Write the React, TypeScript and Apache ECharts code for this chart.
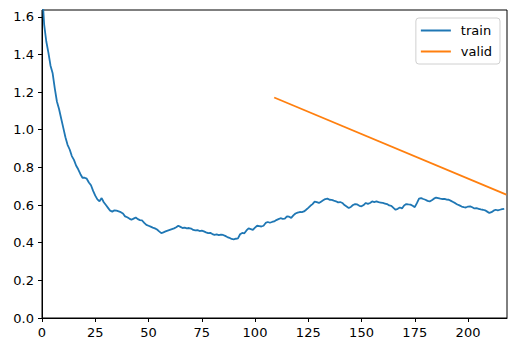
import React, { useEffect, useRef } from "react";
import * as echarts from "echarts";

const trainLoss: number[] = [
  1.75, 1.56, 1.47, 1.41, 1.34, 1.3, 1.22, 1.15, 1.11, 1.06,
  1.01, 0.96, 0.92, 0.895, 0.86, 0.84, 0.81, 0.79, 0.765, 0.745,
  0.745, 0.74, 0.72, 0.705, 0.675, 0.65, 0.63, 0.62, 0.637, 0.615,
  0.6, 0.585, 0.57, 0.565, 0.572, 0.57, 0.566, 0.562, 0.555, 0.54,
  0.535, 0.528, 0.522, 0.528, 0.534, 0.525, 0.52, 0.518, 0.505, 0.495,
  0.49, 0.485, 0.48, 0.476, 0.47, 0.46, 0.451, 0.455, 0.46, 0.464,
  0.468, 0.472, 0.476, 0.482, 0.49, 0.484, 0.478, 0.48, 0.476, 0.478,
  0.475, 0.468, 0.465, 0.467, 0.462, 0.464, 0.46, 0.455, 0.451, 0.452,
  0.446, 0.442, 0.444, 0.44, 0.443, 0.441, 0.436, 0.43, 0.426, 0.42,
  0.418, 0.421, 0.423, 0.445, 0.452, 0.45, 0.465, 0.476, 0.472, 0.468,
  0.48, 0.49, 0.488, 0.486, 0.49, 0.505, 0.51, 0.506, 0.51, 0.513,
  0.52, 0.525, 0.53, 0.527, 0.528, 0.54, 0.538, 0.532, 0.545, 0.555,
  0.56, 0.563, 0.562, 0.566, 0.575, 0.585, 0.596, 0.605, 0.618, 0.615,
  0.611, 0.618, 0.625, 0.632, 0.634, 0.628, 0.627, 0.623, 0.62, 0.614,
  0.616, 0.611, 0.6, 0.592, 0.584, 0.59, 0.6, 0.605, 0.603, 0.596,
  0.593, 0.6, 0.611, 0.606, 0.611, 0.619, 0.616, 0.619, 0.615, 0.613,
  0.611, 0.608, 0.605, 0.598, 0.596, 0.585, 0.575, 0.58, 0.587, 0.582,
  0.598, 0.605, 0.603, 0.602, 0.596, 0.589, 0.61, 0.634, 0.637, 0.632,
  0.628, 0.622, 0.619, 0.626, 0.634, 0.64, 0.637, 0.634, 0.632, 0.633,
  0.629, 0.628, 0.622, 0.616, 0.61, 0.603, 0.598, 0.592, 0.589, 0.587,
  0.592, 0.593, 0.588, 0.582, 0.583, 0.58, 0.577, 0.575, 0.572, 0.565,
  0.558, 0.562, 0.57, 0.575, 0.572, 0.575, 0.578, 0.58,
];

const validSteps: number[] = [109, 218];
const validLoss: number[] = [1.171, 0.655];

const xTicks: number[] = [0, 25, 50, 75, 100, 125, 150, 175, 200];
const yTicks: number[] = [0, 0.2, 0.4, 0.6, 0.8, 1.0, 1.2, 1.4, 1.6];

const FONT = "DejaVu Sans";
const FS = 13;

export default function App() {
  const ref = useRef<HTMLDivElement>(null);

  useEffect(() => {
    if (!ref.current) return;
    const chart = echarts.init(ref.current, undefined, { renderer: "svg" });
    const trainData = trainLoss.map((v, i) => [i, v]);
    const validData = validSteps.map((s, i) => [s, validLoss[i]]);

    chart.setOption({
      animation: false,
      backgroundColor: "#ffffff",
      grid: {
        left: 42,
        right: 9,
        top: 10,
        bottom: 34,
        show: true,
        borderColor: "#000000",
        borderWidth: 1,
        backgroundColor: "transparent",
      },
      legend: {
        right: 16,
        top: 18,
        orient: "vertical",
        padding: [5, 8, 5, 5],
        itemGap: 6,
        itemWidth: 30,
        itemHeight: 2,
        icon: "rect",
        borderColor: "#d0d0d0",
        borderWidth: 1,
        borderRadius: 3,
        backgroundColor: "rgba(255,255,255,0.8)",
        textStyle: {
          fontFamily: FONT,
          fontSize: FS,
          color: "#000000",
          lineHeight: 15,
          padding: [0, 0, 0, 5],
        },
        data: ["train", "valid"],
      },
      xAxis: {
        type: "value",
        min: 0,
        max: 218.3,
        splitLine: { show: false },
        axisLine: { show: true, onZero: false, lineStyle: { color: "#000", width: 1 } },
        axisTick: {
          show: true,
          inside: false,
          length: 4,
          customValues: xTicks,
          lineStyle: { color: "#000" },
        },
        axisLabel: {
          customValues: xTicks,
          fontFamily: FONT,
          fontSize: FS,
          color: "#000",
          margin: 8,
          formatter: (v: number) => String(v),
        },
      },
      yAxis: {
        type: "value",
        min: 0,
        max: 1.636,
        splitLine: { show: false },
        axisLine: { show: true, onZero: false, lineStyle: { color: "#000", width: 1 } },
        axisTick: {
          show: true,
          inside: false,
          length: 4,
          customValues: yTicks,
          lineStyle: { color: "#000" },
        },
        axisLabel: {
          customValues: yTicks,
          fontFamily: FONT,
          fontSize: FS,
          color: "#000",
          margin: 8,
          formatter: (v: number) => v.toFixed(1),
        },
      },
      series: [
        {
          name: "train",
          type: "line",
          data: trainData,
          showSymbol: false,
          symbol: "none",
          color: "#1f77b4",
          lineStyle: { color: "#1f77b4", width: 1.8 },
          clip: true,
        },
        {
          name: "valid",
          type: "line",
          data: validData,
          showSymbol: false,
          symbol: "none",
          color: "#ff7f0e",
          lineStyle: { color: "#ff7f0e", width: 1.8 },
          clip: true,
        },
      ],
    });

    return () => {
      chart.dispose();
    };
  }, []);

  return (
    <div
      ref={ref}
      style={{ position: "fixed", left: 0, top: 0, width: 516, height: 352 }}
    />
  );
}
